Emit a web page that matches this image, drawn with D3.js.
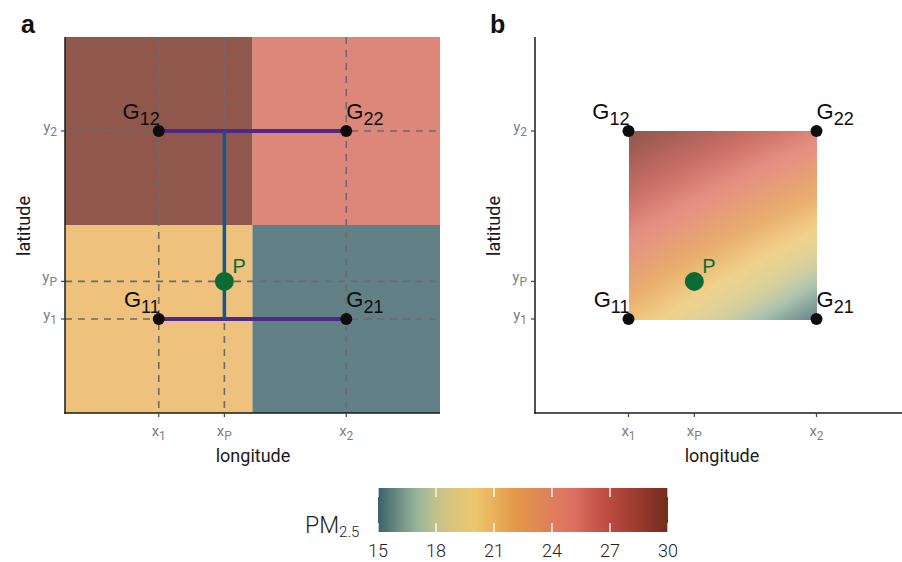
<!DOCTYPE html>
<html>
<head>
<meta charset="utf-8">
<script src="https://cdn.jsdelivr.net/npm/d3@7"></script>
<style>
  body { margin: 0; background: #fff; }
  svg text { font-family: Roboto, "Liberation Sans", sans-serif; }
</style>
</head>
<body>
<div id="chart"></div>
<script>
(function() {
	var w = 902, h = 562,
		svg = d3.select("#chart").append("svg")
			.attr("width", w)
			.attr("height", h)

	// grid nodes (longitude, latitude) and their PM2.5 values
	var nodeIds = ["11", "21", "12", "22"]
	var nodeLon = [0.5, 1.5, 0.5, 1.5]
	var nodeLat = [0.5, 0.5, 1.5, 1.5]
	var nodePm = [21, 15, 30, 25.5]

	// the point to interpolate
	var pLon = 0.85, pLat = 0.7

	// axis ticks
	var xTickVals = [0.5, 0.85, 1.5], xTickSubs = ["1", "P", "2"]
	var yTickVals = [0.5, 0.7, 1.5], yTickSubs = ["1", "P", "2"]

	// colour bar
	var pmTicks = [15, 18, 21, 24, 27, 30]
	var paletteVals = [15, 16, 17, 18, 19, 20, 21, 22, 23, 24, 25, 26, 27, 28, 29, 30]
	var paletteCols = ["#3b6168", "#6a8b84", "#97b59a", "#c2c289", "#dcc67a", "#ecc76f",
		"#eab15b", "#e49a4a", "#e08c4e", "#e07e5e", "#dc7262", "#cc5d4f",
		"#ba4a3f", "#a43f34", "#8c3528", "#742d1f"]

	var color = d3.scaleLinear()
		.domain(paletteVals)
		.range(paletteCols)
		.interpolate(d3.interpolateRgb)

	var nodes = nodeIds.map((id, i) => ({id: id, lon: nodeLon[i], lat: nodeLat[i], pm: nodePm[i]}))
	var byId = {}
	nodes.forEach(d => byId[d.id] = d)

	// bilinear value inside the cell
	var bilinear = (lon, lat) => {
		var t = (lon - 0.5), s = (lat - 0.5)
		return (1 - s) * ((1 - t) * byId["11"].pm + t * byId["21"].pm) +
			s * ((1 - t) * byId["12"].pm + t * byId["22"].pm)
	}

	var y = d3.scaleLinear().domain([0, 2]).range([413, 37])

	var subText = (sel, base, sub, size, subSize, dy) => {
		sel.append("tspan").text(base)
		sel.append("tspan").attr("dy", dy).style("font-size", subSize + "px").text(sub)
		sel.style("font-size", size + "px")
	}

	var drawAxes = (g, x, xEnd, left) => {
		// axis lines
		g.append("line").attr("x1", left).attr("x2", left).attr("y1", 37).attr("y2", 413.75)
			.attr("stroke", "#1a1a1a").attr("stroke-width", 1.5)
		g.append("line").attr("x1", left - 0.75).attr("x2", xEnd).attr("y1", 413).attr("y2", 413)
			.attr("stroke", "#1a1a1a").attr("stroke-width", 1.5)

		xTickVals.forEach((v, i) => {
			g.append("line").attr("x1", x(v)).attr("x2", x(v)).attr("y1", 413).attr("y2", 417)
				.attr("stroke", "#444").attr("stroke-width", 1.2)
			var t = g.append("text").attr("x", x(v)).attr("y", 436)
				.attr("text-anchor", "middle").attr("fill", "#7f7f7f")
			subText(t, "x", xTickSubs[i], 15, 12, 4)
		})
		yTickVals.forEach((v, i) => {
			g.append("line").attr("x1", left - 4).attr("x2", left).attr("y1", y(v)).attr("y2", y(v))
				.attr("stroke", "#444").attr("stroke-width", 1.2)
			var t = g.append("text").attr("x", left - 8).attr("y", y(v) + 1)
				.attr("text-anchor", "end").attr("fill", "#7f7f7f")
			subText(t, "y", yTickSubs[i], 15, 12, 4)
		})
	}

	var drawNodes = (g, x) => {
		g.selectAll("circle.node").data(nodes).enter().append("circle")
			.attr("class", "node")
			.attr("cx", d => x(d.lon)).attr("cy", d => y(d.lat))
			.attr("r", 6).attr("fill", "#0d0d0d")

		nodes.forEach(d => {
			var left = d.lon < 1
			var t = g.append("text")
				.attr("x", x(d.lon) + (left ? 1 : 0))
				.attr("y", y(d.lat) - 12)
				.attr("text-anchor", left ? "end" : "start")
				.attr("fill", "#0d0d0d")
				.style("font-family", "'Liberation Sans', Arial, sans-serif")
			subText(t, "G", d.id, 22, 18, 6)
		})

		g.append("circle").attr("cx", x(pLon)).attr("cy", y(pLat)).attr("r", 9.5).attr("fill", "#0b6b35")
		g.append("text").attr("x", x(pLon) + 8).attr("y", y(pLat) - 8)
			.attr("fill", "#0b6b35")
			.style("font-family", "'Liberation Sans', Arial, sans-serif")
			.style("font-size", "20px")
			.text("P")
	}

	// ---------- panel a ----------
	var xa = d3.scaleLinear().domain([0, 2]).range([65, 440])
	var ga = svg.append("g")

	ga.selectAll("rect.tile").data(nodes).enter().append("rect")
		.attr("class", "tile")
		.attr("x", d => xa(d.lon - 0.5))
		.attr("y", d => y(d.lat + 0.5))
		.attr("width", d => xa(d.lon + 0.5) - xa(d.lon - 0.5))
		.attr("height", d => y(d.lat - 0.5) - y(d.lat + 0.5))
		.attr("fill", d => color(d.pm))
		.attr("fill-opacity", 0.8)

	// dashed reference lines
	xTickVals.forEach(v => {
		ga.append("line").attr("x1", xa(v)).attr("x2", xa(v)).attr("y1", 37).attr("y2", 413)
			.attr("stroke", "#6b6b6b").attr("stroke-width", 1.6).attr("stroke-dasharray", "7,6")
	})
	yTickVals.forEach(v => {
		ga.append("line").attr("x1", 65).attr("x2", 440).attr("y1", y(v)).attr("y2", y(v))
			.attr("stroke", "#6b6b6b").attr("stroke-width", 1.6).attr("stroke-dasharray", "7,6")
	})

	// interpolation paths
	;[0.5, 1.5].forEach(lat => {
		ga.append("line").attr("x1", xa(0.5)).attr("x2", xa(1.5)).attr("y1", y(lat)).attr("y2", y(lat))
			.attr("stroke", "#50288a").attr("stroke-width", 4)
	})
	ga.append("line").attr("x1", xa(pLon)).attr("x2", xa(pLon)).attr("y1", y(0.5)).attr("y2", y(1.5))
		.attr("stroke", "#12578f").attr("stroke-width", 3.5)

	drawAxes(ga, xa, 440, 65)
	drawNodes(ga, xa)

	// ---------- panel b ----------
	var xb = d3.scaleLinear().domain([0, 2]).range([534.5, 910.5])
	var gb = svg.append("g")

	var n = 94, step = 1 / n
	var cells = []
	d3.range(n).forEach(i => d3.range(n).forEach(j => {
		var lon = 0.5 + (i + 0.5) * step, lat = 0.5 + (j + 0.5) * step
		cells.push({lon: lon, lat: lat, pm: bilinear(lon, lat)})
	}))
	gb.selectAll("rect.cell").data(cells).enter().append("rect")
		.attr("class", "cell")
		.attr("x", d => xb(d.lon - step / 2))
		.attr("y", d => y(d.lat + step / 2))
		.attr("width", xb(step) - xb(0) + 0.5)
		.attr("height", y(0) - y(step) + 0.5)
		.attr("fill", d => d3.interpolateRgb("#ffffff", color(d.pm))(0.8))
		.attr("shape-rendering", "crispEdges")

	drawAxes(gb, xb, w, 535)
	drawNodes(gb, xb)

	// axis titles
	;[[253, 30], [722, 500]].forEach(a => {
		svg.append("text")
			.attr("x", a[0]).attr("y", 462)
			.attr("text-anchor", "middle").attr("fill", "#1a1a1a")
			.style("font-size", "18px")
			.text("longitude")
		svg.append("text")
			.attr("transform", "translate(" + a[1] + ",226) rotate(-90)")
			.attr("text-anchor", "middle").attr("fill", "#1a1a1a")
			.style("font-size", "18px")
			.text("latitude")
	})

	// panel tags
	svg.append("text").attr("x", 21).attr("y", 33).attr("fill", "#111")
		.style("font-family", "'Liberation Sans', Arial, sans-serif")
		.style("font-weight", "bold").style("font-size", "25px").text("a")
	svg.append("text").attr("x", 490).attr("y", 33).attr("fill", "#111")
		.style("font-family", "'Liberation Sans', Arial, sans-serif")
		.style("font-weight", "bold").style("font-size", "25px").text("b")

	// ---------- colour bar ----------
	var cb = d3.scaleLinear().domain([15, 30]).range([378, 668])
	var grad = svg.append("defs").append("linearGradient").attr("id", "pmgrad")
	d3.range(0, 1.0001, 0.02).forEach(f => {
		grad.append("stop").attr("offset", f).attr("stop-color", color(15 + f * 15))
	})
	svg.append("rect").attr("x", cb(15)).attr("y", 488).attr("width", cb(30) - cb(15)).attr("height", 44)
		.attr("fill", "url(#pmgrad)")
	pmTicks.forEach(v => {
		svg.append("line").attr("x1", cb(v)).attr("x2", cb(v)).attr("y1", 488).attr("y2", 497)
			.attr("stroke", "#fff").attr("stroke-width", 1.3)
		svg.append("line").attr("x1", cb(v)).attr("x2", cb(v)).attr("y1", 523).attr("y2", 532)
			.attr("stroke", "#fff").attr("stroke-width", 1.3)
		svg.append("text").attr("x", cb(v)).attr("y", 557)
			.attr("text-anchor", "middle").attr("fill", "#222")
			.style("font-size", "18px").style("font-weight", 300)
			.text(v)
	})
	var pm = svg.append("text").attr("x", 305).attr("y", 533).attr("fill", "#222")
		.style("font-weight", 300)
	subText(pm, "PM", "2.5", 23, 15, 4)
})()
</script>
</body>
</html>
